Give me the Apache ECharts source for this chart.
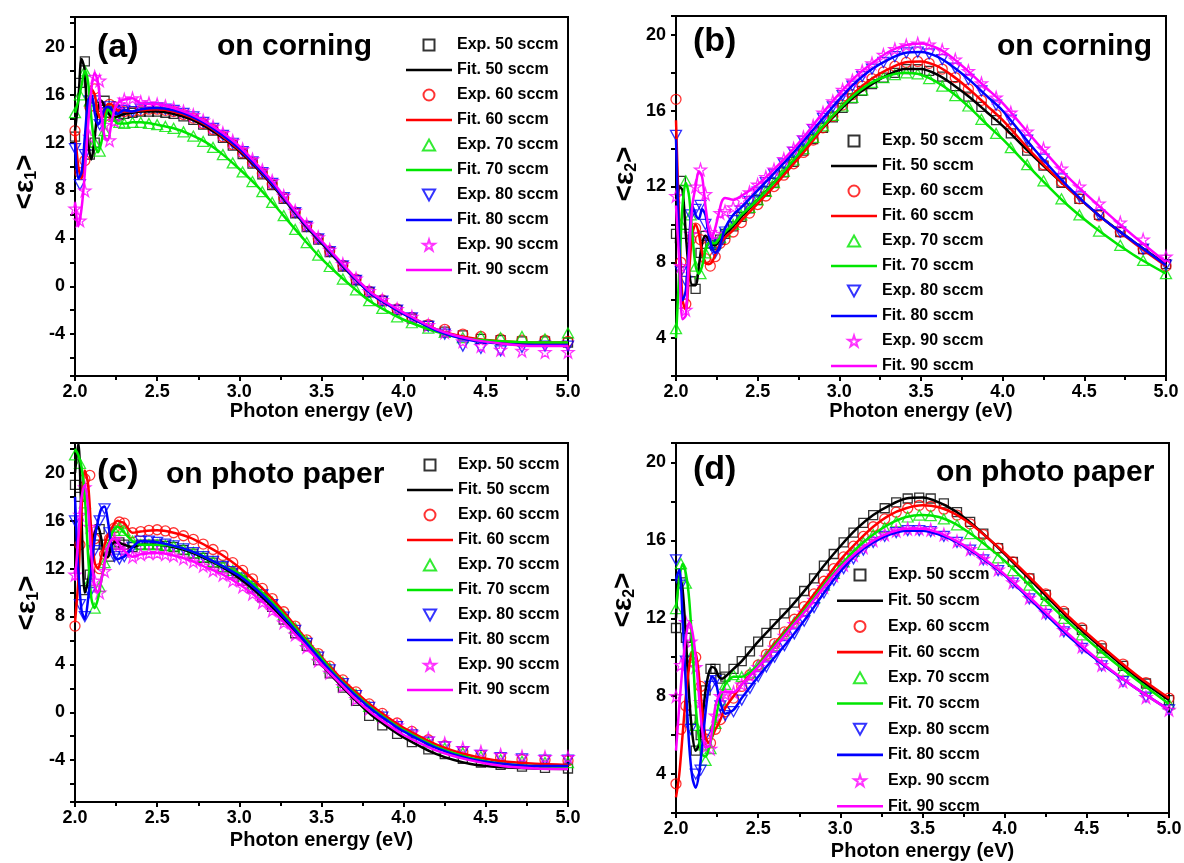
<!DOCTYPE html>
<html><head><meta charset="utf-8">
<script src="https://cdn.jsdelivr.net/npm/echarts@6/dist/echarts.min.js"></script>
<style>html,body{margin:0;padding:0;background:#fff}#c{width:1184px;height:863px}</style>
</head><body><div id="c"></div>
<script>
// ---------- shared grids (photon energy, eV) ----------
const expX = [2.00,2.03,2.06,2.09,2.12,2.15,2.18,2.21,2.24,2.27,2.30,2.35,2.40,2.45,2.50,2.55,2.60,2.66,2.72,2.78,2.84,2.90,2.96,3.02,3.08,3.14,3.20,3.27,3.34,3.41,3.48,3.55,3.63,3.71,3.79,3.87,3.96,4.05,4.15,4.25,4.36,4.47,4.59,4.72,4.86,5.00];
const fitX = [2.00,2.02,2.04,2.06,2.08,2.10,2.12,2.14,2.16,2.18,2.20,2.22,2.24,2.26,2.28,2.30,2.35,2.40,2.50,2.60,2.70,2.80,2.90,3.00,3.10,3.20,3.30,3.40,3.50,3.60,3.70,3.80,3.90,4.00,4.20,4.40,4.60,4.80,5.00];
const flows = ['50 sccm','60 sccm','70 sccm','80 sccm','90 sccm'];
const xTickLabels = ['2.0','2.5','3.0','3.5','4.0','4.5','5.0'];
const yTickLabelsE1 = [-4,0,4,8,12,16,20];
const yTickLabelsE2 = [4,8,12,16,20];

// ---------- (a) <e1> on corning ----------
const a_exp50 = [12.5,17.0,18.8,11.0,12.0,15.0,15.5,14.5,14.2,14.3,14.4,14.5,14.6,14.6,14.6,14.5,14.4,14.2,13.9,13.5,13.0,12.4,11.75,11.05,10.25,9.35,8.45,7.3,6.1,4.95,3.9,2.85,1.65,0.5,-0.5,-1.25,-2.0,-2.7,-3.3,-3.8,-4.1,-4.4,-4.5,-4.6,-4.6,-4.7];
const a_exp60 = [13.0,9.5,10.5,15.0,16.5,14.5,14.2,15.2,15.0,14.7,14.6,14.6,14.7,14.8,14.8,14.7,14.6,14.35,14.05,13.6,13.1,12.5,11.85,11.15,10.35,9.45,8.55,7.4,6.2,5.05,4.0,2.95,1.75,0.6,-0.4,-1.15,-1.9,-2.6,-3.2,-3.6,-4.0,-4.2,-4.4,-4.5,-4.5,-4.6];
const a_exp70 = [14.5,16.0,18.0,15.5,12.0,11.3,13.0,14.8,14.2,13.7,13.6,13.7,13.7,13.6,13.5,13.35,13.2,12.9,12.55,12.1,11.6,11.0,10.3,9.55,8.75,7.9,7.0,5.9,4.75,3.65,2.6,1.65,0.6,-0.3,-1.2,-1.85,-2.55,-3.05,-3.5,-3.85,-4.3,-4.2,-4.3,-4.2,-4.4,-3.9];
const a_exp80 = [11.5,8.5,11.0,15.5,15.5,13.5,14.5,15.0,14.6,14.5,14.7,14.6,14.8,14.9,14.9,14.8,14.7,14.45,14.15,13.7,13.2,12.6,11.95,11.25,10.4,9.5,8.6,7.4,6.15,5.0,3.95,2.9,1.7,0.5,-0.5,-1.25,-2.0,-2.65,-3.35,-4.0,-5.0,-5.2,-5.4,-5.1,-5.0,-5.0];
const a_exp90 = [6.5,5.5,8.0,12.5,17.5,17.2,13.5,12.2,13.8,15.2,15.6,15.7,15.4,15.3,15.2,15.05,14.9,14.6,14.3,13.85,13.35,12.8,12.15,11.45,10.6,9.7,8.8,7.55,6.3,5.15,4.1,3.05,1.85,0.65,-0.4,-1.15,-1.9,-2.55,-3.25,-3.85,-4.6,-5.0,-5.3,-5.4,-5.5,-5.5];
const a_fit50 = [13.0,15.5,19.0,18.0,12.0,10.6,12.5,14.8,15.5,15.0,14.5,14.2,14.1,14.2,14.3,14.4,14.5,14.6,14.6,14.4,14.0,13.3,12.4,11.3,9.95,8.45,6.8,5.1,3.6,2.1,0.65,-0.6,-1.5,-2.3,-3.65,-4.4,-4.65,-4.75,-4.75];
const a_fit60 = [13.0,10.0,9.0,11.0,14.5,16.5,16.0,14.5,14.0,14.5,15.2,15.2,14.9,14.7,14.6,14.6,14.6,14.7,14.8,14.6,14.15,13.45,12.5,11.4,10.05,8.55,6.9,5.2,3.7,2.2,0.75,-0.5,-1.45,-2.25,-3.6,-4.3,-4.6,-4.7,-4.7];
const a_fit70 = [14.5,15.5,16.8,18.0,17.0,14.0,11.8,11.2,12.0,13.5,14.8,14.5,13.9,13.6,13.6,13.6,13.7,13.7,13.5,13.2,12.7,12.0,11.0,9.8,8.5,7.0,5.4,3.8,2.3,1.0,-0.2,-1.3,-2.1,-2.8,-3.8,-4.4,-4.6,-4.7,-4.7];
const a_fit80 = [12.0,9.0,9.5,12.5,15.5,16.0,14.5,13.5,14.0,14.8,15.0,14.8,14.5,14.4,14.6,14.7,14.6,14.8,14.9,14.7,14.25,13.55,12.6,11.5,10.1,8.6,6.9,5.2,3.7,2.2,0.7,-0.6,-1.5,-2.3,-3.7,-4.5,-4.8,-4.9,-4.9];
const a_fit90 = [7.0,5.0,6.5,9.5,13.5,16.5,17.8,17.0,14.5,12.5,12.2,13.5,14.8,15.3,15.5,15.6,15.7,15.3,15.2,14.9,14.4,13.7,12.8,11.7,10.3,8.8,7.0,5.3,3.8,2.3,0.8,-0.5,-1.4,-2.2,-3.6,-4.4,-4.8,-5.0,-5.0];

// ---------- (b) <e2> on corning ----------
const b_exp50 = [9.5,12.3,9.5,7.0,6.6,8.5,9.4,9.0,8.9,9.2,9.5,9.9,10.4,10.85,11.3,11.75,12.2,12.75,13.3,13.9,14.5,15.1,15.65,16.15,16.65,17.05,17.4,17.75,18.0,18.2,18.2,18.1,17.8,17.3,16.75,16.2,15.5,14.8,13.9,13.1,12.2,11.35,10.5,9.6,8.7,7.9];
const b_exp60 = [16.6,8.0,5.8,9.2,9.8,9.2,8.2,7.8,8.3,9.0,9.2,9.6,10.1,10.6,11.05,11.5,12.0,12.6,13.2,13.8,14.45,15.1,15.7,16.3,16.85,17.3,17.7,18.05,18.35,18.55,18.6,18.5,18.2,17.75,17.15,16.55,15.8,15.05,14.05,13.15,12.25,11.35,10.45,9.6,8.7,7.8];
const b_exp70 = [4.5,10.0,12.3,10.5,7.8,7.4,8.5,9.0,9.0,9.3,9.6,10.0,10.5,10.9,11.3,11.75,12.2,12.8,13.4,14.0,14.6,15.2,15.75,16.25,16.7,17.1,17.5,17.75,17.9,18.0,17.95,17.7,17.3,16.8,16.25,15.55,14.8,14.05,13.15,12.3,11.35,10.5,9.65,8.9,8.1,7.4];
const b_exp80 = [14.7,7.5,7.0,10.5,10.8,11.0,10.0,9.0,8.5,9.0,9.6,10.2,10.7,11.2,11.7,12.2,12.65,13.2,13.8,14.4,15.0,15.6,16.2,16.8,17.3,17.8,18.2,18.55,18.85,19.05,19.1,19.0,18.7,18.25,17.65,17.05,16.3,15.5,14.45,13.45,12.4,11.45,10.5,9.6,8.7,7.85];
const b_exp90 = [11.5,7.8,5.5,9.5,12.0,12.9,11.6,9.6,9.5,10.6,10.7,10.9,11.3,11.7,12.1,12.5,12.9,13.45,14.0,14.6,15.2,15.9,16.5,17.1,17.6,18.1,18.5,18.95,19.25,19.45,19.55,19.5,19.2,18.7,18.1,17.45,16.7,15.9,14.9,14.0,12.95,12.0,11.1,10.1,9.2,8.3];
const b_fit50 = [9.0,12.0,11.8,9.5,7.5,6.8,6.8,7.8,9.0,9.4,9.2,8.9,8.9,9.1,9.3,9.5,9.9,10.4,11.3,12.2,13.1,14.1,15.1,16.0,16.8,17.4,17.9,18.2,18.2,17.9,17.35,16.7,15.95,15.2,13.5,11.9,10.4,9.1,7.9];
const b_fit60 = [15.5,10.0,6.0,5.5,7.5,9.5,10.0,9.5,8.5,8.0,7.9,8.0,8.4,8.8,9.1,9.3,9.7,10.2,11.1,12.0,13.0,14.0,15.1,16.1,17.0,17.7,18.2,18.55,18.6,18.35,17.8,17.1,16.3,15.5,13.6,11.9,10.4,9.05,7.8];
const b_fit70 = [4.0,7.5,11.0,12.2,11.5,9.5,7.8,7.4,7.8,8.6,9.0,9.0,9.0,9.2,9.4,9.6,10.0,10.5,11.3,12.2,13.2,14.2,15.2,16.1,16.9,17.5,17.85,18.0,17.9,17.5,16.9,16.15,15.3,14.5,12.7,11.0,9.6,8.4,7.4];
const b_fit80 = [14.5,9.0,6.0,6.5,9.0,11.0,10.5,10.3,10.8,10.5,9.5,8.8,8.5,8.7,9.2,9.8,10.5,10.9,11.8,12.7,13.6,14.6,15.6,16.6,17.5,18.2,18.7,19.05,19.1,18.85,18.3,17.6,16.8,16.0,13.9,12.0,10.4,9.1,7.85];
const b_fit90 = [11.0,8.0,5.0,5.2,8.5,11.0,12.0,12.8,12.5,11.0,9.8,9.3,9.8,10.5,11.2,11.4,11.3,11.5,12.1,12.9,13.8,14.8,15.9,16.9,17.8,18.5,19.1,19.45,19.55,19.3,18.75,18.0,17.2,16.4,14.4,12.5,10.9,9.4,8.0];

// ---------- (c) <e1> on photo paper ----------
const c_exp50 = [19.0,18.0,10.2,11.5,14.0,15.3,14.0,13.0,14.0,14.2,14.0,13.8,14.0,14.0,14.0,13.9,13.8,13.55,13.25,12.9,12.5,12.1,11.6,11.0,10.35,9.6,8.8,7.75,6.6,5.55,4.35,3.25,2.05,0.95,-0.3,-1.1,-1.8,-2.5,-3.1,-3.5,-3.9,-4.2,-4.4,-4.55,-4.65,-4.7];
const c_exp60 = [7.2,14.0,19.5,19.8,14.5,12.0,13.2,14.5,15.4,15.9,15.8,15.0,15.1,15.2,15.25,15.15,15.0,14.75,14.45,14.05,13.6,13.1,12.5,11.85,11.15,10.35,9.5,8.4,7.2,6.05,4.9,3.85,2.7,1.7,0.7,-0.1,-0.9,-1.6,-2.3,-2.8,-3.3,-3.6,-3.8,-3.95,-4.0,-4.05];
const c_exp70 = [21.5,20.8,17.5,11.0,8.7,10.5,12.5,14.0,15.2,15.5,15.2,14.3,14.0,14.0,14.0,13.95,13.9,13.65,13.35,13.0,12.6,12.2,11.85,11.4,10.7,10.0,9.2,8.15,7.05,5.95,4.8,3.7,2.5,1.5,0.5,-0.3,-1.1,-1.8,-2.5,-3.0,-3.4,-3.7,-3.95,-4.1,-4.2,-4.2];
const c_exp80 = [16.0,9.0,8.0,10.0,13.5,16.0,17.0,15.0,13.0,12.8,13.0,13.8,14.3,14.3,14.2,14.05,13.9,13.65,13.35,13.0,12.6,12.2,11.75,11.2,10.5,9.8,9.0,7.95,6.85,5.75,4.6,3.55,2.4,1.4,0.4,-0.4,-1.2,-1.9,-2.5,-2.9,-3.3,-3.6,-3.8,-3.9,-4.0,-4.0];
const c_exp90 = [11.5,16.5,18.8,15.5,11.0,10.0,11.8,13.6,14.5,14.0,13.5,13.0,13.2,13.3,13.3,13.2,13.1,12.85,12.6,12.25,11.85,11.5,11.0,10.5,9.9,9.2,8.5,7.5,6.5,5.45,4.3,3.3,2.2,1.1,0.3,-0.4,-1.1,-1.7,-2.2,-2.6,-3.0,-3.3,-3.55,-3.7,-3.75,-3.75];
const c_fit50 = [20.0,22.5,16.0,10.0,11.0,13.5,15.0,15.5,14.5,13.0,13.0,13.8,14.2,14.2,14.1,14.0,13.8,14.0,14.0,13.8,13.4,12.8,12.1,11.2,10.1,8.8,7.3,5.7,4.0,2.5,1.1,-0.2,-1.2,-2.1,-3.5,-4.3,-4.6,-4.7,-4.75];
const c_fit60 = [7.5,11.0,17.0,20.2,19.0,15.0,12.5,12.0,13.0,14.0,14.8,15.3,15.8,16.0,15.9,15.8,15.0,15.1,15.2,15.0,14.6,13.9,13.1,12.1,10.9,9.5,7.9,6.2,4.6,3.1,1.8,0.6,-0.4,-1.3,-2.7,-3.6,-4.1,-4.3,-4.4];
const c_fit70 = [22.0,21.5,20.5,18.0,13.0,9.5,8.7,9.5,11.0,12.5,13.8,14.8,15.3,15.5,15.3,15.0,14.3,14.0,14.0,13.9,13.5,12.9,12.2,11.6,10.5,9.2,7.7,6.1,4.5,2.9,1.6,0.4,-0.6,-1.5,-2.9,-3.8,-4.3,-4.5,-4.6];
const c_fit80 = [18.0,12.0,8.5,7.8,9.5,12.0,14.5,16.0,17.0,17.2,16.0,14.0,13.0,12.8,12.9,13.0,13.8,14.3,14.2,13.9,13.5,12.9,12.2,11.4,10.3,9.0,7.5,5.9,4.3,2.8,1.5,0.3,-0.7,-1.6,-3.0,-3.9,-4.3,-4.5,-4.5];
const c_fit90 = [11.0,14.5,18.0,19.0,17.0,13.0,10.5,10.0,11.0,12.5,13.8,14.4,14.5,14.2,13.8,13.5,13.0,13.2,13.3,13.1,12.7,12.1,11.5,10.7,9.7,8.5,7.1,5.6,4.0,2.6,1.2,0.0,-1.0,-1.9,-3.2,-4.0,-4.5,-4.7,-4.75];

// ---------- (d) <e2> on photo paper ----------
const d_exp50 = [11.5,14.3,11.0,6.8,5.2,6.0,8.3,9.4,9.4,8.9,9.0,9.4,9.8,10.3,10.8,11.25,11.7,12.25,12.8,13.4,14.05,14.7,15.3,15.9,16.4,16.9,17.3,17.65,17.95,18.15,18.2,18.15,17.9,17.45,16.95,16.35,15.6,14.9,14.05,13.2,12.25,11.4,10.45,9.55,8.65,7.8];
const d_exp60 = [3.5,6.3,7.5,9.8,10.0,8.5,5.8,5.6,6.3,6.8,7.2,7.9,8.5,9.1,9.6,10.15,10.7,11.3,11.95,12.6,13.25,13.9,14.55,15.15,15.7,16.2,16.7,17.1,17.45,17.65,17.8,17.75,17.6,17.3,16.85,16.3,15.6,14.9,14.05,13.25,12.35,11.5,10.6,9.65,8.7,7.9];
const d_exp70 = [12.5,14.8,13.8,10.0,6.5,5.5,4.7,5.3,6.6,7.8,8.6,9.1,9.0,9.2,9.6,10.1,10.6,11.2,11.8,12.4,13.05,13.7,14.3,14.9,15.45,15.9,16.3,16.65,16.95,17.2,17.3,17.27,17.1,16.8,16.35,15.8,15.1,14.45,13.7,12.9,12.0,11.15,10.25,9.3,8.4,7.6];
const d_exp80 = [15.0,13.7,9.8,6.3,4.0,4.2,6.0,8.5,8.8,7.5,7.0,7.2,7.8,8.4,9.0,9.5,10.0,10.6,11.2,11.85,12.55,13.3,13.95,14.55,15.05,15.5,15.9,16.2,16.4,16.5,16.5,16.45,16.2,15.9,15.5,15.0,14.45,13.8,13.0,12.2,11.3,10.45,9.55,8.75,7.95,7.3];
const d_exp90 = [8.0,9.6,11.8,10.8,9.5,7.7,5.4,5.3,7.0,8.0,8.1,8.2,8.6,9.05,9.5,10.0,10.5,11.1,11.7,12.3,12.95,13.6,14.2,14.75,15.25,15.65,16.0,16.3,16.5,16.6,16.6,16.55,16.3,15.95,15.55,15.05,14.5,13.85,13.05,12.3,11.4,10.55,9.6,8.75,7.95,7.3];
const d_fit50 = [12.0,14.2,13.5,11.0,8.0,6.0,5.2,5.5,6.8,8.3,9.2,9.5,9.4,9.0,8.9,9.0,9.4,9.8,10.8,11.7,12.6,13.6,14.7,15.7,16.6,17.3,17.8,18.15,18.2,17.95,17.5,16.85,16.1,15.3,13.6,11.9,10.4,9.0,7.8];
const d_fit60 = [2.8,4.0,6.0,8.0,9.5,10.3,10.2,9.0,7.2,5.9,5.6,5.9,6.3,6.6,7.0,7.4,8.0,8.6,9.6,10.7,11.7,12.8,13.9,15.0,15.9,16.7,17.3,17.65,17.8,17.7,17.35,16.8,16.1,15.35,13.7,12.0,10.5,9.1,7.9];
const d_fit70 = [12.5,14.0,14.8,14.3,13.0,10.5,7.5,5.8,5.0,4.9,5.3,6.0,6.8,7.6,8.2,8.6,9.0,9.0,9.6,10.6,11.6,12.6,13.7,14.7,15.6,16.3,16.85,17.2,17.3,17.2,16.85,16.3,15.65,14.95,13.3,11.7,10.2,8.85,7.6];
const d_fit80 = [14.0,14.5,12.0,8.5,5.5,3.8,3.3,4.0,5.5,7.2,8.5,9.0,8.8,8.0,7.4,7.1,7.3,7.9,9.0,10.0,11.0,12.1,13.3,14.4,15.3,15.9,16.3,16.5,16.5,16.3,15.95,15.45,14.85,14.2,12.6,11.0,9.6,8.4,7.3];
const d_fit90 = [5.2,7.5,9.5,11.0,11.8,11.3,10.0,8.0,6.2,5.4,5.4,6.3,7.5,8.0,8.2,8.2,8.2,8.6,9.5,10.5,11.5,12.5,13.6,14.6,15.4,16.0,16.4,16.6,16.6,16.4,16.0,15.5,14.9,14.25,12.7,11.1,9.65,8.4,7.3];

// ---------- styling ----------
const FONT = '"Liberation Sans", Arial, Helvetica, sans-serif';
const colors = ['#000000', '#ff0000', '#00e600', '#0000ff', '#ff00ff'];
const symbols = ['rect', 'circle', 'triangle', 'path://M0,0L10,0L5,9Z',
  'path://M50,0L61,35L98,35L68,57L79,91L50,70L21,91L32,57L2,35L39,35Z'];
const symSizes = [9, 10, [11, 10], [11, 10], 12];
const legendIcons = ['path://M0,0L10,0L10,10L0,10Z', 'circle', 'path://M5,0L10,9L0,9Z', 'path://M0,0L10,0L5,9Z',
  'path://M50,0L61,35L98,35L68,57L79,91L50,70L21,91L32,57L2,35L39,35Z'];
const lineIcon = 'path://M0,0L46,0L46,2.6L0,2.6Z';

const panels = [
  { exp: [a_exp50, a_exp60, a_exp70, a_exp80, a_exp90], fit: [a_fit50, a_fit60, a_fit70, a_fit80, a_fit90],
    grid: { left: 75, top: 17, width: 493, height: 359 }, e1: true, nameGap: 24,
    legend: { left: 406, top: 37, itemGap: 9 }, tag: ['(a)', 97, 48], sub: ['on corning', 217, 47], yt: [25, 182, '1'] },
  { exp: [b_exp50, b_exp60, b_exp70, b_exp80, b_exp90], fit: [b_fit50, b_fit60, b_fit70, b_fit80, b_fit90],
    grid: { left: 676, top: 16, width: 490, height: 360 }, e1: false, nameGap: 25,
    legend: { left: 831, top: 133, itemGap: 9 }, tag: ['(b)', 693, 42], sub: ['on corning', 997, 47], yt: [625, 174, '2'] },
  { exp: [c_exp50, c_exp60, c_exp70, c_exp80, c_exp90], fit: [c_fit50, c_fit60, c_fit70, c_fit80, c_fit90],
    grid: { left: 75, top: 443, width: 493, height: 359 }, e1: true, nameGap: 28,
    legend: { left: 407, top: 457, itemGap: 9 }, tag: ['(c)', 97, 473], sub: ['on photo paper', 166, 475], yt: [27, 603, '1'] },
  { exp: [d_exp50, d_exp60, d_exp70, d_exp80, d_exp90], fit: [d_fit50, d_fit60, d_fit70, d_fit80, d_fit90],
    grid: { left: 676, top: 443, width: 493, height: 370 }, e1: false, nameGap: 28,
    legend: { left: 837, top: 567, itemGap: 9.7 }, tag: ['(d)', 693, 470], sub: ['on photo paper', 936, 473], yt: [623, 600, '2'] }
];

const legendData = [];
flows.forEach((f, s) => {
  legendData.push({ name: 'Exp. ' + f, icon: legendIcons[s] });
  legendData.push({ name: 'Fit. ' + f, icon: lineIcon });
});

const grids = [], xAxes = [], yAxes = [], legends = [], series = [], graphics = [];
panels.forEach((p, pi) => {
  grids.push(Object.assign({ show: true, borderColor: '#000', borderWidth: 2, backgroundColor: 'transparent', containLabel: false, outerBoundsMode: 'none' }, p.grid));
  xAxes.push({
    type: 'value', gridIndex: pi, min: 2, max: 5, interval: 0.5,
    axisLine: { show: true, onZero: false, lineStyle: { color: '#000', width: 2 } },
    axisTick: { show: true, inside: false, length: 5, lineStyle: { color: '#000', width: 2 } },
    minorTick: { show: true, splitNumber: 2, length: 4, lineStyle: { color: '#000', width: 2 } },
    splitLine: { show: false },
    axisLabel: { fontSize: 18, fontWeight: 'bold', fontFamily: FONT, color: '#000', margin: 7,
      formatter: v => { const s = v.toFixed(1); return xTickLabels.indexOf(s) >= 0 ? s : ''; } },
    name: 'Photon energy (eV)', nameLocation: 'middle', nameGap: p.nameGap,
    nameTextStyle: { fontSize: 20, fontWeight: 'bold', fontFamily: FONT, color: '#000' }
  });
  const yCommon = {
    type: 'value', gridIndex: pi,
    axisLine: { show: true, onZero: false, lineStyle: { color: '#000', width: 2 } },
    axisTick: { show: true, inside: false, length: 5, lineStyle: { color: '#000', width: 2 } },
    splitLine: { show: false },
  };
  if (p.e1) {
    yAxes.push(Object.assign({}, yCommon, {
      min: -7.5, max: 22.5, splitNumber: 15, minInterval: 2, maxInterval: 2,
      axisLabel: { fontSize: 18, fontWeight: 'bold', fontFamily: FONT, color: '#000', margin: 10, showMinLabel: true, showMaxLabel: true,
        formatter: v => (yTickLabelsE1.indexOf(Math.round(v * 1000) / 1000) >= 0 ? String(v) : '') }
    }));
  } else {
    yAxes.push(Object.assign({}, yCommon, {
      min: 2, max: 21, interval: 2,
      axisLabel: { fontSize: 18, fontWeight: 'bold', fontFamily: FONT, color: '#000', margin: 10, showMinLabel: true, showMaxLabel: true,
        formatter: v => (yTickLabelsE2.indexOf(Math.round(v * 1000) / 1000) >= 0 ? String(v) : '') }
    }));
  }
  legends.push({
    data: legendData, orient: 'vertical', left: p.legend.left, top: p.legend.top, padding: 0,
    itemWidth: 46, itemHeight: 11, itemGap: p.legend.itemGap, selectedMode: false, symbolKeepAspect: true,
    textStyle: { fontSize: 16, fontWeight: 'bold', fontFamily: FONT, color: '#000' }
  });
  for (let s = 0; s < 5; s++) {
    series.push({
      type: 'scatter', name: 'Exp. ' + flows[s], xAxisIndex: pi, yAxisIndex: pi,
      data: expX.map((x, i) => [x, p.exp[s][i]]),
      symbol: symbols[s], symbolSize: symSizes[s],
      itemStyle: { color: 'rgba(255,255,255,0)', borderColor: colors[s], borderWidth: 1.3 },
      silent: true, animation: false, clip: true
    });
    series.push({
      type: 'line', name: 'Fit. ' + flows[s], xAxisIndex: pi, yAxisIndex: pi,
      data: fitX.map((x, i) => [x, p.fit[s][i]]),
      smooth: 0.3, symbol: 'none', showSymbol: false,
      lineStyle: { color: colors[s], width: 2.5 }, itemStyle: { color: colors[s], borderWidth: 0 },
      silent: true, animation: false, clip: true
    });
  }
  graphics.push({ type: 'text', x: p.tag[1], y: p.tag[2], z: 100,
    style: { text: p.tag[0], fontSize: 34, fontWeight: 'bold', fontFamily: FONT, fill: '#000', align: 'left', verticalAlign: 'middle', textAlign: 'left', textVerticalAlign: 'middle' } });
  graphics.push({ type: 'text', x: p.sub[1], y: p.sub[2], z: 100,
    style: { text: p.sub[0], fontSize: 30, fontWeight: 'bold', fontFamily: FONT, fill: '#000', align: 'left', verticalAlign: 'middle', textAlign: 'left', textVerticalAlign: 'middle' } });
  graphics.push({ type: 'text', x: p.yt[0], y: p.yt[1], rotation: Math.PI / 2, z: 100,
    style: { text: '<ε{s|' + p.yt[2] + '}>', fontSize: 28, fontWeight: 'bold', fontFamily: FONT, fill: '#000',
      align: 'center', verticalAlign: 'middle', textAlign: 'center', textVerticalAlign: 'middle',
      rich: { s: { fontSize: 16, fontWeight: 'bold', fontFamily: FONT, fill: '#000', padding: [14, 0, 0, 0] } } } });
});

const chart = echarts.init(document.getElementById('c'), null, { renderer: 'canvas' });
chart.setOption({
  backgroundColor: '#ffffff',
  animation: false,
  grid: grids, xAxis: xAxes, yAxis: yAxes, legend: legends, series: series, graphic: graphics
});
</script></body></html>
